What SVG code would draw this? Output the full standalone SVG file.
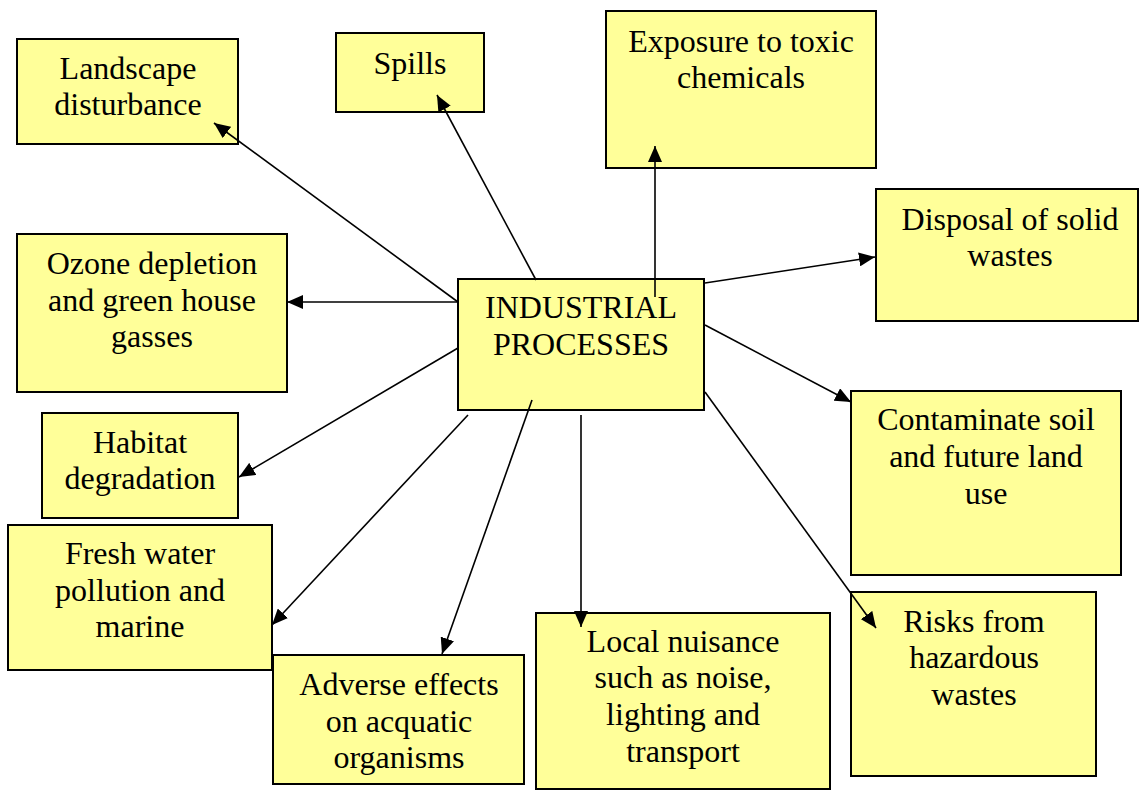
<svg xmlns="http://www.w3.org/2000/svg" width="1139" height="790" viewBox="0 0 1139 790">
<style>
.box{fill:#FFFF99;stroke:#000;stroke-width:2}
.t{font-family:"Liberation Serif","Times New Roman",serif;font-size:32px;fill:#000;text-anchor:middle}
.c{stroke:#000;stroke-width:1.6;fill:none;marker-end:url(#ah)}
</style>
<defs>
<marker id="ah" viewBox="0 0 16 14" refX="16" refY="7" markerWidth="16" markerHeight="14" markerUnits="userSpaceOnUse" orient="auto">
<path d="M0,0 L16,7 L0,14 z" fill="#000"/>
</marker>
</defs>
<rect width="1139" height="790" fill="#fff"/>
<g id="landscape"><rect class="box" x="17" y="39" width="221" height="105"/>
<text class="t" x="128" y="79">Landscape</text><text class="t" x="128" y="115">disturbance</text></g>
<g id="spills"><rect class="box" x="336" y="33" width="148" height="79"/>
<text class="t" x="410" y="74">Spills</text></g>
<g id="exposure"><rect class="box" x="606" y="11" width="270" height="157"/>
<text class="t" x="741" y="52">Exposure to toxic</text><text class="t" x="741" y="88">chemicals</text></g>
<g id="disposal"><rect class="box" x="876" y="189" width="262" height="132"/>
<text class="t" x="1010" y="230">Disposal of solid</text><text class="t" x="1010" y="266">wastes</text></g>
<g id="ozone"><rect class="box" x="17" y="234" width="270" height="158"/>
<text class="t" x="152" y="274">Ozone depletion</text><text class="t" x="152" y="311">and green house</text><text class="t" x="152" y="347">gasses</text></g>
<g id="industrial"><rect class="box" x="458" y="279" width="246" height="131"/>
<text class="t" x="581" y="318">INDUSTRIAL</text><text class="t" x="581" y="355">PROCESSES</text></g>
<g id="habitat"><rect class="box" x="42" y="413" width="196" height="105"/>
<text class="t" x="140" y="453">Habitat</text><text class="t" x="140" y="489">degradation</text></g>
<g id="contaminate"><rect class="box" x="851" y="391" width="270" height="184"/>
<text class="t" x="986" y="430">Contaminate soil</text><text class="t" x="986" y="467">and future land</text><text class="t" x="986" y="504">use</text></g>
<g id="fresh"><rect class="box" x="8" y="525" width="264" height="145"/>
<text class="t" x="140" y="564">Fresh water</text><text class="t" x="140" y="601">pollution and</text><text class="t" x="140" y="637">marine</text></g>
<g id="risks"><rect class="box" x="851" y="592" width="245" height="184"/>
<text class="t" x="974" y="632">Risks from</text><text class="t" x="974" y="668">hazardous</text><text class="t" x="974" y="705">wastes</text></g>
<g id="adverse"><rect class="box" x="273" y="655" width="251" height="129"/>
<text class="t" x="399" y="695">Adverse effects</text><text class="t" x="399" y="732">on acquatic</text><text class="t" x="399" y="768">organisms</text></g>
<g id="local"><rect class="box" x="536" y="613" width="294" height="176"/>
<text class="t" x="683" y="652">Local nuisance</text><text class="t" x="683" y="688">such as noise,</text><text class="t" x="683" y="725">lighting and</text><text class="t" x="683" y="762">transport</text></g>
<g id="connectors">
<line class="c" x1="458" y1="302" x2="214" y2="123"/>
<line class="c" x1="536" y1="280" x2="437" y2="95"/>
<line class="c" x1="655" y1="297" x2="655" y2="146"/>
<line class="c" x1="705" y1="283" x2="875" y2="257"/>
<line class="c" x1="458" y1="302" x2="287" y2="302"/>
<line class="c" x1="705" y1="325" x2="851" y2="402"/>
<line class="c" x1="458" y1="348" x2="239" y2="477"/>
<line class="c" x1="705" y1="392" x2="876" y2="628"/>
<line class="c" x1="468" y1="415" x2="272" y2="625"/>
<line class="c" x1="532" y1="400" x2="442" y2="654"/>
<line class="c" x1="581" y1="415" x2="581" y2="627"/>
</g>
</svg>
